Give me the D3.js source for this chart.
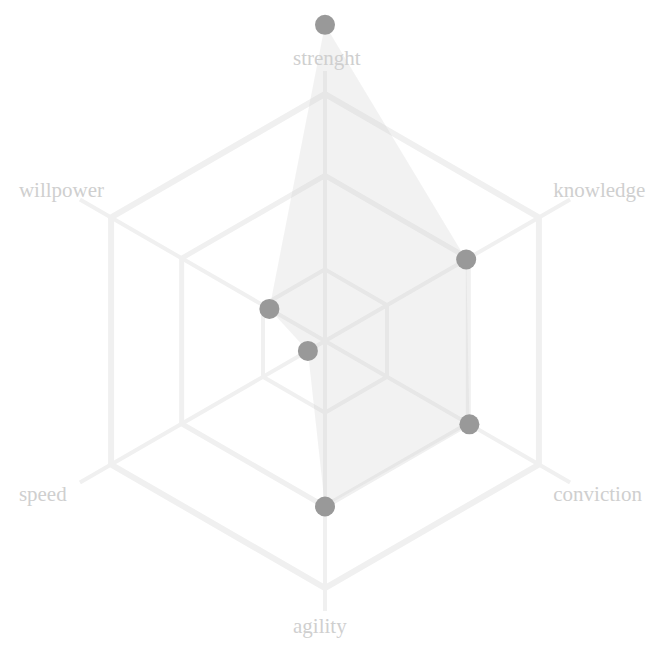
<!DOCTYPE html>
<html>
<head>
<meta charset="utf-8">
<script src="https://cdn.jsdelivr.net/npm/d3@7"></script>
<style>
  body { margin: 0; background: #fff; }
  .label { font-family: "Liberation Serif", "Times New Roman", serif; font-size: 21px; fill: #cfcfcf; }
</style>
</head>
<body>
<svg id="radar-svg" width="670" height="656"></svg>
<script>
var axes   = ["strenght", "knowledge", "conviction", "agility", "speed", "willpower"];
var values = [12.8, 6.6, 6.75, 6.7, 0.8, 2.6];
var levels = [2.9, 6.7, 10];

var svg = d3.select("#radar-svg"),
    cx = 325,
    cy = 341;

var r = d3.scaleLinear().domain([0, 10]).range([0, 247]);

var angle = d3.scalePoint()
    .domain(axes)
    .range([0, 2 * Math.PI * (axes.length - 1) / axes.length]);

function px(a, rad) { return cx + rad * Math.sin(angle(a)); }
function py(a, rad) { return cy - rad * Math.cos(angle(a)); }
function side(a) { return Math.abs(Math.sin(angle(a))); }

var g = svg.append("g");

// grid hexagons
g.selectAll(".level")
  .data(levels)
  .enter().append("polygon")
    .attr("class", "level")
    .attr("points", function(lv) {
      return axes.map(function(a) { return px(a, r(lv)) + "," + py(a, r(lv)); }).join(" ");
    })
    .attr("fill", "none")
    .attr("stroke", "#f0f0f0")
    .attr("stroke-width", function(d, i) { return 4 + i; });

// spokes
g.selectAll(".spoke")
  .data(axes)
  .enter().append("line")
    .attr("class", "spoke")
    .attr("x1", cx)
    .attr("y1", cy)
    .attr("x2", function(a) { return px(a, 270 + 15 * side(a)); })
    .attr("y2", function(a) { return py(a, 270 + 15 * side(a)); })
    .attr("stroke", "#f0f0f0")
    .attr("stroke-width", 4);

// data area
var pts = axes.map(function(a, i) { return [px(a, r(values[i])), py(a, r(values[i]))]; });

g.append("polygon")
  .attr("points", pts.map(function(p) { return p.join(","); }).join(" "))
  .attr("fill", "#cbcbcb")
  .attr("fill-opacity", 0.25)
  .attr("stroke", "none");

g.selectAll(".dot")
  .data(pts)
  .enter().append("circle")
    .attr("class", "dot")
    .attr("cx", function(p) { return p[0]; })
    .attr("cy", function(p) { return p[1]; })
    .attr("r", 10)
    .attr("fill", "#999");

// labels
g.selectAll(".label")
  .data(axes)
  .enter().append("text")
    .attr("class", "label")
    .attr("text-anchor", "start")
    .attr("x", function(a) { return px(a, 286 + 26 * side(a)) - 32 - 8 * side(a); })
    .attr("y", function(a) { return py(a, 284 + 24 * side(a)) + 8; })
    .text(function(a) { return a; });
</script>
</body>
</html>
